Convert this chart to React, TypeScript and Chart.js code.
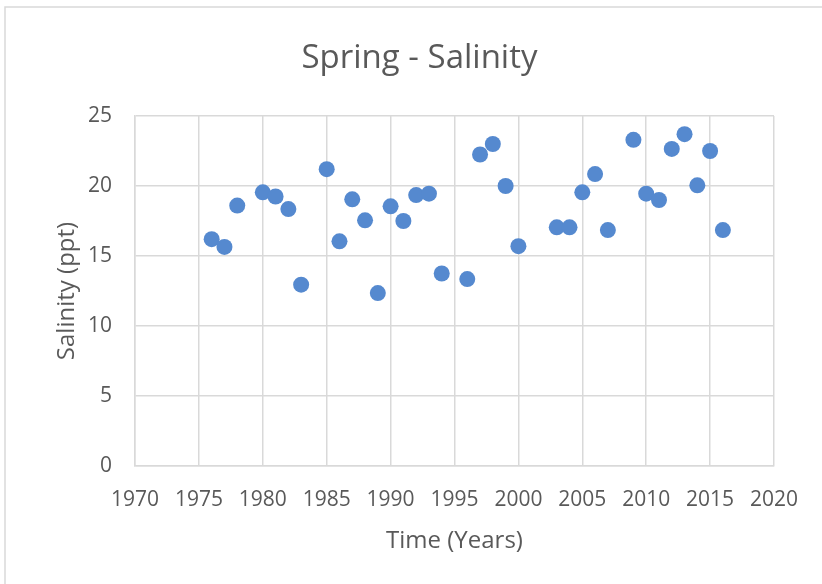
import React, { useEffect, useRef } from "react";
import { Chart, registerables } from "chart.js";

Chart.register(...registerables);

const years = [
  1976, 1977, 1978, 1980, 1981, 1982, 1983, 1985, 1986, 1987, 1988, 1989, 1990,
  1991, 1992, 1993, 1994, 1996, 1997, 1998, 1999, 2000, 2003, 2004, 2005, 2006,
  2007, 2009, 2010, 2011, 2012, 2013, 2014, 2015, 2016,
];
const salinity = [
  16.2, 15.65, 18.6, 19.55, 19.25, 18.35, 12.95, 21.2, 16.05, 19.05, 17.55, 12.35,
  18.55, 17.5, 19.35, 19.45, 13.75, 13.35, 22.25, 23.0, 20.0, 15.7, 17.05, 17.05,
  19.55, 20.85, 16.85, 23.3, 19.45, 19.0, 22.65, 23.7, 20.05, 22.5, 16.85,
];
const xTicks = { min: 1970, max: 2020, step: 5 };
const yTicks = { min: 0, max: 25, step: 5 };

const chartTitle = "Spring - Salinity";
const xTitle = "Time (Years)";
const yTitle = "Salinity (ppt)";

const FONT = "'Open Sans', sans-serif";
const TEXT = "#595959";
const GRID = "#d9d9d9";

const frame = {
  id: "frame",
  beforeDraw(chart: any) {
    const ctx = chart.ctx;
    ctx.save();
    ctx.fillStyle = "#ffffff";
    ctx.fillRect(0, 0, chart.width, chart.height);
    ctx.strokeStyle = GRID;
    ctx.lineWidth = 1.5;
    ctx.beginPath();
    ctx.moveTo(5, chart.height);
    ctx.lineTo(5, 7);
    ctx.lineTo(chart.width, 7);
    ctx.stroke();
    ctx.fillStyle = TEXT;
    ctx.font = "33px " + FONT;
    ctx.textAlign = "center";
    ctx.textBaseline = "middle";
    ctx.fillText(chartTitle, 419.5, 58.5);
    ctx.restore();
  },
};

export default function App() {
  const ref = useRef<HTMLCanvasElement>(null);
  useEffect(() => {
    if (!ref.current) return;
    const chart = new Chart(ref.current, {
      type: "scatter",
      data: {
        datasets: [
          {
            data: years.map((y, i) => ({ x: y, y: salinity[i] })),
            backgroundColor: "#5589cf",
            borderWidth: 0,
            pointRadius: 8,
            pointHoverRadius: 8,
          },
        ],
      },
      options: {
        responsive: false,
        animation: false,
        layout: { padding: { top: 116, left: 0, right: 48, bottom: 28.6 } },
        plugins: {
          legend: { display: false },
          tooltip: { enabled: false },
          title: { display: false },
        },
        scales: {
          x: {
            type: "linear",
            min: xTicks.min,
            max: xTicks.max,
            afterFit: (s: any) => {
              s.height = 89.4;
            },
            grid: { color: GRID, lineWidth: 1.5, drawTicks: false },
            border: { color: GRID, width: 1.5 },
            ticks: {
              stepSize: xTicks.step,
              padding: 21.5,
              color: TEXT,
              font: { family: FONT, size: 21 },
              maxRotation: 0,
              callback: (v: any) => String(v),
            },
            title: {
              display: true,
              text: xTitle,
              color: TEXT,
              font: { family: FONT, size: 24 },
              padding: { top: 0, bottom: 0 },
            },
          },
          y: {
            min: yTicks.min,
            max: yTicks.max,
            afterFit: (s: any) => {
              s.width = 135;
            },
            grid: { color: GRID, lineWidth: 1.5, drawTicks: false },
            border: { color: GRID, width: 1.5 },
            ticks: {
              stepSize: yTicks.step,
              padding: 23,
              color: TEXT,
              font: { family: FONT, size: 21 },
              callback: (v: any) => String(v),
            },
            title: {
              display: true,
              text: yTitle,
              color: TEXT,
              font: { family: FONT, size: 24 },
              padding: { top: 52.6, bottom: 0 },
            },
          },
        },
      },
      plugins: [frame],
    });
    return () => chart.destroy();
  }, []);
  return (
    <div style={{ position: "fixed", left: 0, top: 0, width: 822, height: 584 }}>
      <canvas ref={ref} width={822} height={584} style={{ display: "block" }} />
    </div>
  );
}
